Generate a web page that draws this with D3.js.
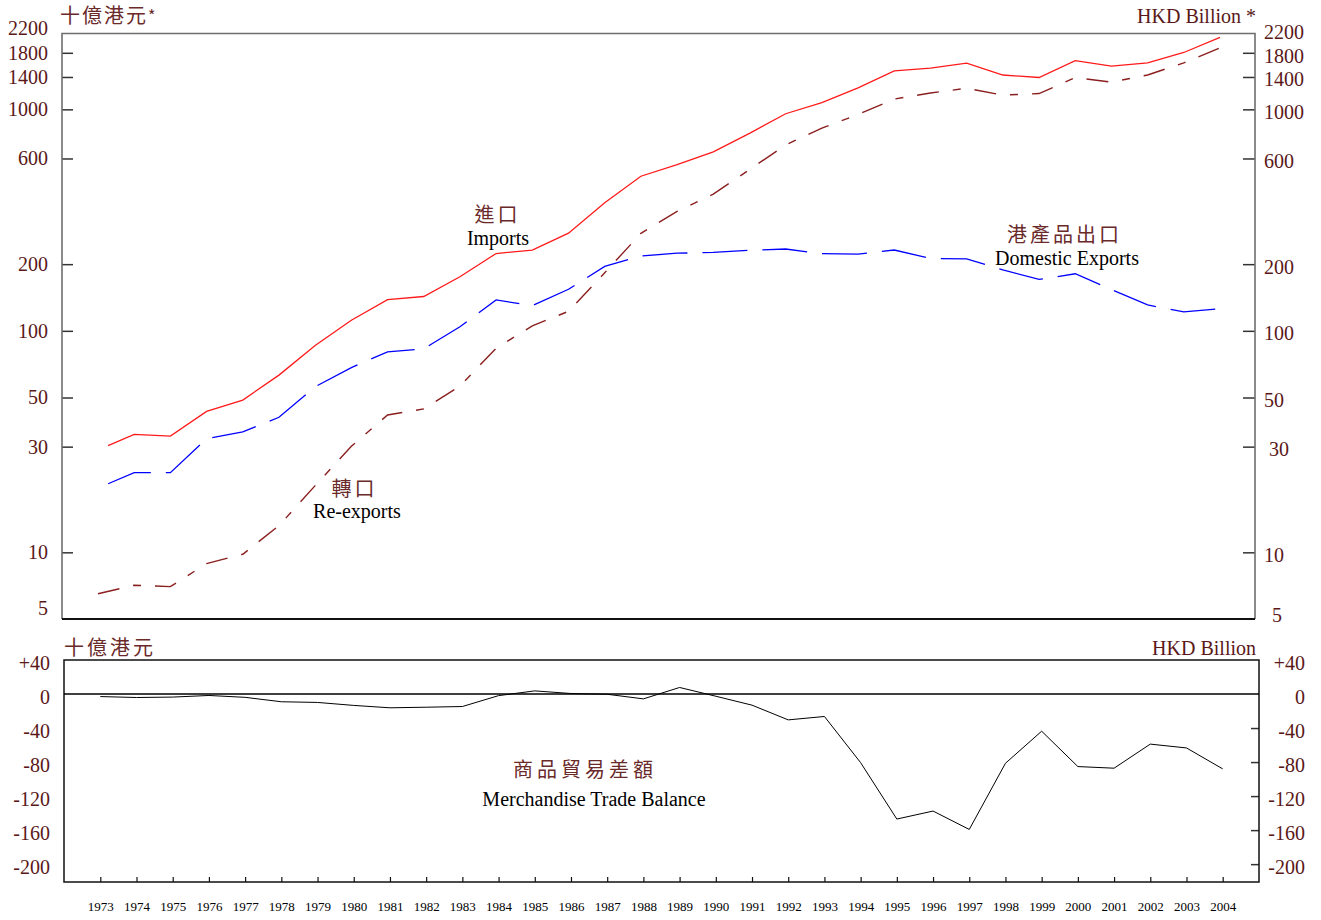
<!DOCTYPE html>
<html>
<head>
<meta charset="utf-8">
<script src="https://cdn.jsdelivr.net/npm/d3@7"></script>
<style>
  body { margin: 0; background: #fff; }
  svg { display: block; }
  .num { font-family: "Liberation Serif", "Times New Roman", serif; fill: #5a1818; }
  .cjk { font-family: "Noto Sans CJK TC", "Noto Sans CJK SC", sans-serif; fill: #6a2a2a; }
  .en { font-family: "Liberation Serif", "Times New Roman", serif; fill: #000; }
</style>
</head>
<body>
<svg id="chart" width="1321" height="920"></svg>
<script>
// ---------- data (HK$ billion) ----------
const years = [1973,1974,1975,1976,1977,1978,1979,1980,1981,1982,1983,1984,1985,1986,1987,1988,
               1989,1990,1991,1992,1993,1994,1995,1996,1997,1998,1999,2000,2001,2002,2003,2004];
const imports = [29.0,34.1,33.5,43.3,48.7,63.1,85.8,111.7,138.4,142.9,175.4,223.4,231.4,276.0,378.3,498.8,
                 562.8,642.5,779.0,955.3,1072.6,1250.7,1491.1,1535.6,1615.1,1429.1,1392.7,1658.0,1568.2,1619.4,1805.8,2111.1];
const domesticExports = [19.5,22.9,22.9,32.6,35.0,40.7,55.9,68.2,80.4,83.0,104.4,137.9,129.9,154.0,195.3,217.7,
                 224.1,225.9,231.0,234.1,223.0,222.1,231.7,212.2,211.4,188.5,170.6,181.0,153.5,130.9,121.7,125.9];
const reExports = [6.5,7.1,7.0,8.9,9.8,13.2,20.0,30.1,41.7,44.4,56.3,83.5,105.3,122.5,182.8,275.4,
                 346.4,414.0,534.8,690.8,823.2,947.9,1112.5,1185.8,1244.5,1159.2,1178.4,1391.7,1327.5,1429.6,1620.7,1893.1];
const tradeBalance = [-3.0,-4.1,-3.6,-1.7,-3.9,-9.1,-9.9,-13.4,-16.2,-15.5,-14.7,-1.9,3.7,0.6,-0.3,-5.7,
                 7.7,-2.6,-13.1,-30.4,-26.4,-80.7,-147.0,-137.6,-159.2,-81.4,-43.7,-85.3,-87.2,-58.9,-63.4,-88.0];
const topTicks = [5,10,30,50,100,200,600,1000,1400,1800,2200];
const bottomTicks = [40,0,-40,-80,-120,-160,-200];

// ---------- layout ----------
const svg = d3.select("#chart");
const T = {left: 62, right: 1255, top: 33.5, bottom: 619};
const B = {left: 64, right: 1259, top: 660, bottom: 882};

const xTop = d3.scaleLinear().domain([1973, 2004]).range([98, 1220]);
const xBot = d3.scaleLinear().domain([1973, 2004]).range([100.3, 1222.7]);
const yTop = d3.scaleLog().domain([5, 2200]).range([T.bottom, T.top]);
const yBot = d3.scaleLinear().domain([-221, 40]).range([B.bottom, B.top]);

// ---------- top panel axes ----------
function styleAxis(g, size) {
  g.select(".domain").remove();
  g.selectAll(".tick line").attr("stroke", "#333").attr("stroke-width", 1.5);
  g.selectAll(".tick text").attr("class", "num").style("font-size", size + "px").attr("fill", null);
}
const fmt = d => String(d);

const lt = svg.append("g").attr("transform", `translate(${T.left},0)`)
  .call(d3.axisLeft(yTop).tickValues(topTicks).tickFormat(fmt).tickSizeInner(-11).tickSizeOuter(0).tickPadding(14));
styleAxis(lt, 20);
lt.selectAll(".tick").filter(d => d === 5 || d === 2200).select("line").remove();
lt.selectAll(".tick").filter(d => d === 2200).select("text").attr("y", -5);
lt.selectAll(".tick").filter(d => d === 5).select("text").attr("y", -11);

const rt = svg.append("g").attr("transform", `translate(${T.right},0)`)
  .call(d3.axisRight(yTop).tickValues(topTicks).tickFormat(fmt).tickSizeInner(-12).tickSizeOuter(0).tickPadding(9));
styleAxis(rt, 20);
rt.selectAll(".tick text").attr("dy", "0.45em");
rt.selectAll(".tick").filter(d => d === 5 || d === 2200).select("line").remove();
rt.selectAll(".tick").filter(d => d === 2200).select("text").attr("y", -4);
rt.selectAll(".tick").filter(d => d === 1800).select("text").attr("y", 1);
rt.selectAll(".tick").filter(d => d === 5).select("text").attr("y", -7).attr("x", 17);
rt.selectAll(".tick").filter(d => d === 30).select("text").attr("x", 14);

// top frame
svg.append("path")
  .attr("d", `M${T.left},${T.bottom}V${T.top}H${T.right}V${T.bottom}`)
  .attr("fill", "none").attr("stroke", "#6e6e6e").attr("stroke-width", 1.6);
svg.append("line").attr("x1", T.left).attr("x2", T.right).attr("y1", T.bottom).attr("y2", T.bottom)
  .attr("stroke", "#111").attr("stroke-width", 2);

// ---------- top panel lines ----------
const lineTop = arr => d3.line().x((d, i) => xTop(years[i])).y(d => yTop(d))(arr);

svg.append("path").attr("d", lineTop(reExports))
  .attr("fill", "none").attr("stroke", "#8b1f1f").attr("stroke-width", 1.4)
  .attr("stroke-dasharray", "22,14,8,14");
svg.append("path").attr("d", lineTop(domesticExports))
  .attr("fill", "none").attr("stroke", "#0000ff").attr("stroke-width", 1.3)
  .attr("stroke-dasharray", "45,15").attr("stroke-dashoffset", 49);
svg.append("path").attr("d", lineTop(imports))
  .attr("fill", "none").attr("stroke", "#ff1a1a").attr("stroke-width", 1.3)
  .attr("stroke-dasharray", "0,11,100000");

// ---------- top panel texts ----------
function cjk(x, y, s, anchor = "middle", ls = 3) {
  return svg.append("text").attr("class", "cjk").attr("x", x + (anchor === "middle" ? ls / 2 : 0)).attr("y", y)
    .attr("text-anchor", anchor).style("font-size", "20px").style("letter-spacing", ls + "px").text(s);
}
function en(x, y, s, anchor = "middle", cls = "en") {
  return svg.append("text").attr("class", cls).attr("x", x).attr("y", y)
    .attr("text-anchor", anchor).style("font-size", "20px").text(s);
}
const u1 = cjk(60, 23, "十億港元", "start", 2);
u1.append("tspan").style("font-size", "16px").attr("dy", -1).text("*");
en(1256, 23, "HKD Billion *", "end", "num");

cjk(496, 222, "進口");
en(498, 245, "Imports");
cjk(353, 496, "轉口");
en(357, 518, "Re-exports");
cjk(1063, 242, "港產品出口");
en(1067, 265, "Domestic Exports");

// ---------- bottom panel ----------
const bfmt = d => d > 0 ? "+" + d : String(d);
const lb = svg.append("g").attr("transform", `translate(${B.left},0)`)
  .call(d3.axisLeft(yBot).tickValues(bottomTicks).tickFormat(bfmt).tickSize(0).tickPadding(14));
styleAxis(lb, 20);
lb.selectAll(".tick text").attr("dy", "0.45em");

const rb = svg.append("g").attr("transform", `translate(${B.right},0)`)
  .call(d3.axisRight(yBot).tickValues(bottomTicks).tickFormat(bfmt).tickSizeInner(-8).tickSizeOuter(0).tickPadding(46));
styleAxis(rb, 20);
rb.selectAll(".tick text").attr("text-anchor", "end").attr("dy", "0.45em");
rb.selectAll(".tick").filter(d => d === 40 || d === 0).select("line").remove();

const xb = svg.append("g").attr("transform", `translate(0,${B.bottom})`)
  .call(d3.axisBottom(xBot).tickValues(years).tickFormat(fmt).tickSizeInner(-5).tickSizeOuter(0).tickPadding(20));
xb.select(".domain").remove();
xb.selectAll(".tick line").attr("stroke", "#111").attr("stroke-width", 1.2);
xb.selectAll(".tick text").attr("class", "en").style("font-size", "13px").attr("fill", null);

svg.append("rect").attr("x", B.left).attr("y", B.top).attr("width", B.right - B.left).attr("height", B.bottom - B.top)
  .attr("fill", "none").attr("stroke", "#111").attr("stroke-width", 1.5);
svg.append("line").attr("x1", B.left).attr("x2", B.right).attr("y1", yBot(0)).attr("y2", yBot(0))
  .attr("stroke", "#000").attr("stroke-width", 1.3);

const lineBot = d3.line().x((d, i) => xBot(years[i])).y(d => yBot(d));
svg.append("path").attr("d", lineBot(tradeBalance))
  .attr("fill", "none").attr("stroke", "#000").attr("stroke-width", 1);

cjk(64, 655, "十億港元", "start", 3);
en(1256, 655, "HKD Billion", "end", "num");
cjk(583, 777, "商品貿易差額", "middle", 4);
en(594, 806, "Merchandise Trade Balance");
</script>
</body>
</html>
